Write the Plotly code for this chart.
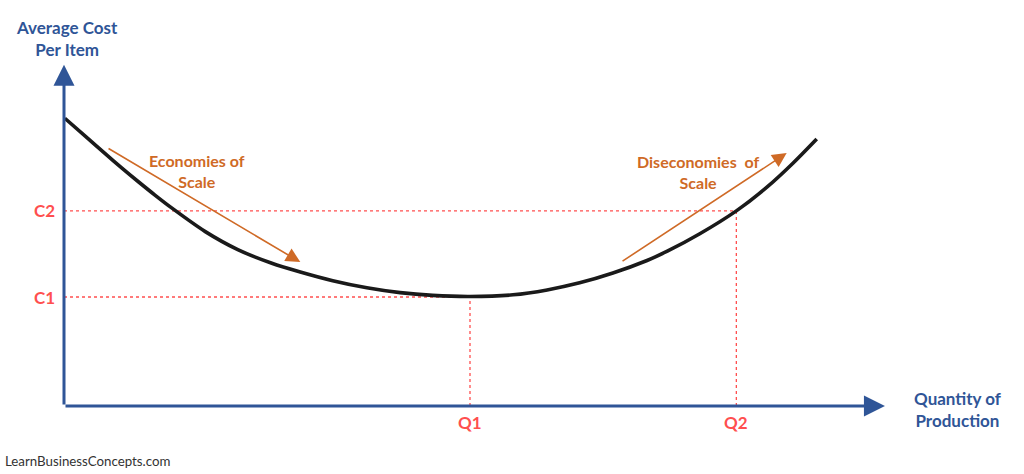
import plotly.graph_objects as go

# ---- data (abstract units: quantity of production, average cost per item) ----
curve_q = [0.1, 3.0, 5.0, 7.1, 9.2, 11.2, 13.3, 17.4, 21.4, 25.6, 29.1, 33.1, 37.3, 41.4, 45.4, 50.0,
           55.3, 59.5, 63.5, 67.6, 71.8, 74.3, 78.3, 82.8, 86.6, 89.8, 92.7]
curve_cost = [26.4, 24.5, 23.2, 21.85, 20.55, 19.35, 18.15, 16.0, 14.35, 13.1, 12.3, 11.5, 10.85, 10.4,
              10.15, 10.05, 10.2, 10.65, 11.3, 12.2, 13.35, 14.2, 15.8, 17.9, 20.1, 22.3, 24.5]
cost_labels = ["C1", "C2"]
cost_levels = [10.0, 17.9]
qty_labels = ["Q1", "Q2"]
qty_levels = [50.0, 82.8]
axis_max_q = 101.1
axis_max_cost = 31.3

BLUE = "#2F5597"
RED = "#FF4F4F"
ORANGE = "#CF6A26"
FONT = "Lato, 'Open Sans', sans-serif"

fig = go.Figure()

# reference dotted lines
for lvl, q in zip(cost_levels, qty_levels):
    fig.add_trace(go.Scatter(x=[0, q], y=[lvl, lvl], mode="lines",
                             line=dict(color=RED, width=1.3, dash="dot"),
                             hoverinfo="skip", showlegend=False))
    fig.add_trace(go.Scatter(x=[q, q], y=[0, lvl], mode="lines",
                             line=dict(color=RED, width=1.3, dash="dot"),
                             hoverinfo="skip", showlegend=False))

# average cost curve
fig.add_trace(go.Scatter(x=curve_q, y=curve_cost, mode="lines",
                         line=dict(color="#1a1a1a", width=3.6, shape="spline", smoothing=0.8),
                         showlegend=False))

ann = []
# axes with arrowheads
ann.append(dict(x=0, y=axis_max_cost, ax=0, ay=0, xref="x", yref="y", axref="x", ayref="y",
                showarrow=True, arrowhead=2, arrowsize=1.4, arrowwidth=3, arrowcolor=BLUE, text=""))
ann.append(dict(x=axis_max_q, y=0, ax=0, ay=0, xref="x", yref="y", axref="x", ayref="y",
                showarrow=True, arrowhead=2, arrowsize=1.4, arrowwidth=3, arrowcolor=BLUE, text=""))

# orange trend arrows
ann.append(dict(x=29.1, y=13.2, ax=5.3, ay=23.7, xref="x", yref="y", axref="x", ayref="y",
                showarrow=True, arrowhead=2, arrowsize=1.8, arrowwidth=1.6, arrowcolor=ORANGE, text=""))
ann.append(dict(x=89.0, y=23.2, ax=68.6, ay=13.2, xref="x", yref="y", axref="x", ayref="y",
                showarrow=True, arrowhead=2, arrowsize=1.8, arrowwidth=1.6, arrowcolor=ORANGE, text=""))

# texts
bold = lambda s: "<b>" + s + "</b>"
ann.append(dict(x=0.37, y=33.7, xref="x", yref="y", text=bold("Average Cost<br>Per Item"),
                showarrow=False, font=dict(family=FONT, size=17, color=BLUE), align="center"))
ann.append(dict(x=110.1, y=-0.3, xref="x", yref="y", text=bold("Quantity of<br>Production"),
                showarrow=False, font=dict(family=FONT, size=17, color=BLUE), align="center"))
for lab, lvl in zip(cost_labels, cost_levels):
    ann.append(dict(x=-2.4, y=lvl, xref="x", yref="y", text=bold(lab), showarrow=False,
                    font=dict(family=FONT, size=17, color=RED)))
for lab, q in zip(qty_labels, qty_levels):
    ann.append(dict(x=q, y=-1.55, xref="x", yref="y", text=bold(lab), showarrow=False,
                    font=dict(family=FONT, size=17, color=RED)))
ann.append(dict(x=16.4, y=21.6, xref="x", yref="y", text=bold("Economies of<br>Scale"),
                showarrow=False, font=dict(family=FONT, size=16, color=ORANGE), align="center"))
ann.append(dict(x=78.1, y=21.5, xref="x", yref="y", text=bold("Diseconomies  of<br>Scale"),
                showarrow=False, font=dict(family=FONT, size=16, color=ORANGE), align="center"))
ann.append(dict(x=3 / 1024, y=1 - 461 / 474, xref="paper", yref="paper", xanchor="left",
                yanchor="middle", text="LearnBusinessConcepts.com", showarrow=False,
                font=dict(family=FONT, size=13.3, color="#333333")))

fig.update_layout(
    width=1024, height=474,
    margin=dict(l=0, r=0, t=0, b=0),
    paper_bgcolor="white", plot_bgcolor="white",
    xaxis=dict(range=[-64 / 8.12, (1024 - 64) / 8.12], visible=False, fixedrange=True),
    yaxis=dict(range=[-(474 - 406) / 10.9, 406 / 10.9], visible=False, fixedrange=True),
    annotations=ann,
    showlegend=False,
)

fig.write_html("out.html", config={"displayModeBar": False},
               post_script="document.body.style.margin='0px';document.body.style.overflow='hidden';")
